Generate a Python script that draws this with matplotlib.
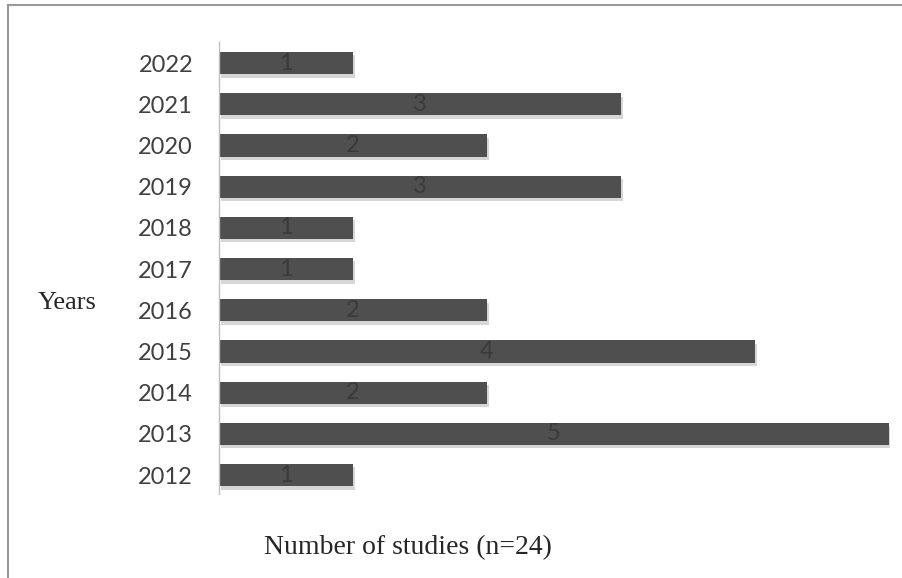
import matplotlib.pyplot as plt
import matplotlib.patheffects as pe
from matplotlib.lines import Line2D

# data
years = ['2012', '2013', '2014', '2015', '2016', '2017', '2018', '2019', '2020', '2021', '2022']
counts = [1, 5, 2, 4, 2, 1, 1, 3, 2, 3, 1]

fig = plt.figure(figsize=(9.03, 5.78), dpi=100)
ax = fig.add_axes([0.2425, 0.1453, 0.743, 0.782])

pos = list(range(len(years)))
bars = ax.barh(pos, counts, height=0.54, color='#4f4f4f', zorder=2)
for b in bars:
    b.set_path_effects([pe.SimplePatchShadow(offset=(1.5, -2.5), shadow_rgbFace='#000000', alpha=0.16),
                        pe.Normal()])

# labels inside the bars
for p, c in zip(pos, counts):
    ax.text(c / 2, p, str(c), ha='center', va='center', fontsize=17,
            family='Lato', color='#3a3a3a', zorder=3)

ax.set_xlim(0, 5.01)
ax.set_ylim(-0.46, 10.51)
ax.set_yticks(pos)
ax.set_yticklabels(years, fontsize=17, family='Lato', color='#404040')
ax.tick_params(axis='y', length=0, pad=18.7)
ax.set_xticks([])
for s in ['top', 'right', 'bottom']:
    ax.spines[s].set_visible(False)
ax.spines['left'].set_color('#bfbfbf')
ax.spines['left'].set_linewidth(1.0)

# axis titles
fig.text(38 / 903, 1 - 303 / 578, 'Years', ha='left', va='center',
         fontsize=19, family='Liberation Serif', color='#262626')
fig.text(408 / 903, 1 - 548 / 578, 'Number of studies (n=24)', ha='center', va='center',
         fontsize=20, family='Liberation Serif', color='#262626')

# frame lines (left and top)
fig.add_artist(Line2D([8 / 903, 8 / 903], [0, 1 - 5 / 578], color='#999999', lw=1.5))
fig.add_artist(Line2D([8 / 903, 1], [1 - 5 / 578, 1 - 5 / 578], color='#999999', lw=1.5))

fig.savefig('out.png', dpi=100)
